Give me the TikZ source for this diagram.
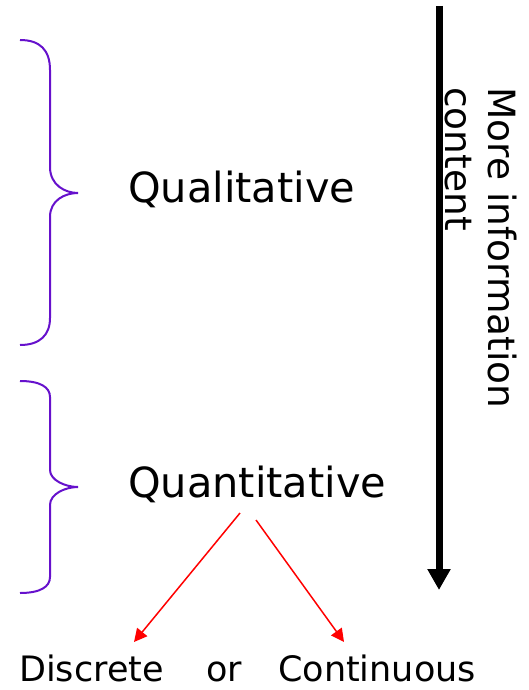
\documentclass[tikz,border=0pt]{standalone}
\usepackage{fontspec}
\setmainfont{DejaVu Sans}
\usetikzlibrary{arrows.meta}
\definecolor{bracecol}{RGB}{102,17,204}
\begin{document}
\begin{tikzpicture}[x=1pt,y=-1pt,
  lbl/.style={inner sep=0pt,anchor=base west,font=\fontsize{41.5}{44}\selectfont},
  low/.style={inner sep=0pt,anchor=base west,font=\fontsize{35}{38}\selectfont},
  side/.style={inner sep=0pt,anchor=base west,rotate=-90,font=\fontsize{37.5}{40}\selectfont},
  brace/.style={draw=bracecol,line width=2pt},
  redarrow/.style={draw=red,line width=1.5pt,-{Triangle[width=13pt,length=13pt]}},
  bigarrow/.style={draw=black,line width=7pt,-{Triangle[width=22pt,length=21pt]}}]
\useasboundingbox (0,0) rectangle (528,690);
% braces
\path[brace] (20,40) .. controls (40,40) and (50,50) .. (50,70) -- (50,167)
  .. controls (50,185) and (65,193) .. (78,193)
  .. controls (65,193) and (50,200) .. (50,217) -- (50,318)
  .. controls (50,335) and (40,345) .. (20,345);
\path[brace] (20,381) .. controls (40,381) and (50,387) .. (50,397) -- (50,470)
  .. controls (50,480) and (65,487) .. (78,487)
  .. controls (65,487) and (50,494) .. (50,505) -- (50,577)
  .. controls (50,587) and (40,593) .. (20,593);
% texts
\node[lbl] (qual) at (128,202) {Qualitative};
\node[lbl] (quant) at (128,497) {Quantitative};
\node[low] (disc) at (19,681) {Discrete};
\node[low] (or) at (206,681) {or};
\node[low] (cont) at (278,681) {Continuous};
\node[side] (more) at (488,87) {More information};
\node[side] (content) at (445,87) {content};
% big arrow
\coordinate (atop) at (439,6);
\coordinate (abot) at (439,590);
\draw[bigarrow] (atop) -- (abot);
% red arrows
\coordinate (r1s) at (240,513);
\coordinate (r1e) at (134,642);
\coordinate (r2s) at (256,520);
\coordinate (r2e) at (344,642);
\draw[redarrow] (r1s) -- (r1e);
\draw[redarrow] (r2s) -- (r2e);
\end{tikzpicture}
\end{document}
